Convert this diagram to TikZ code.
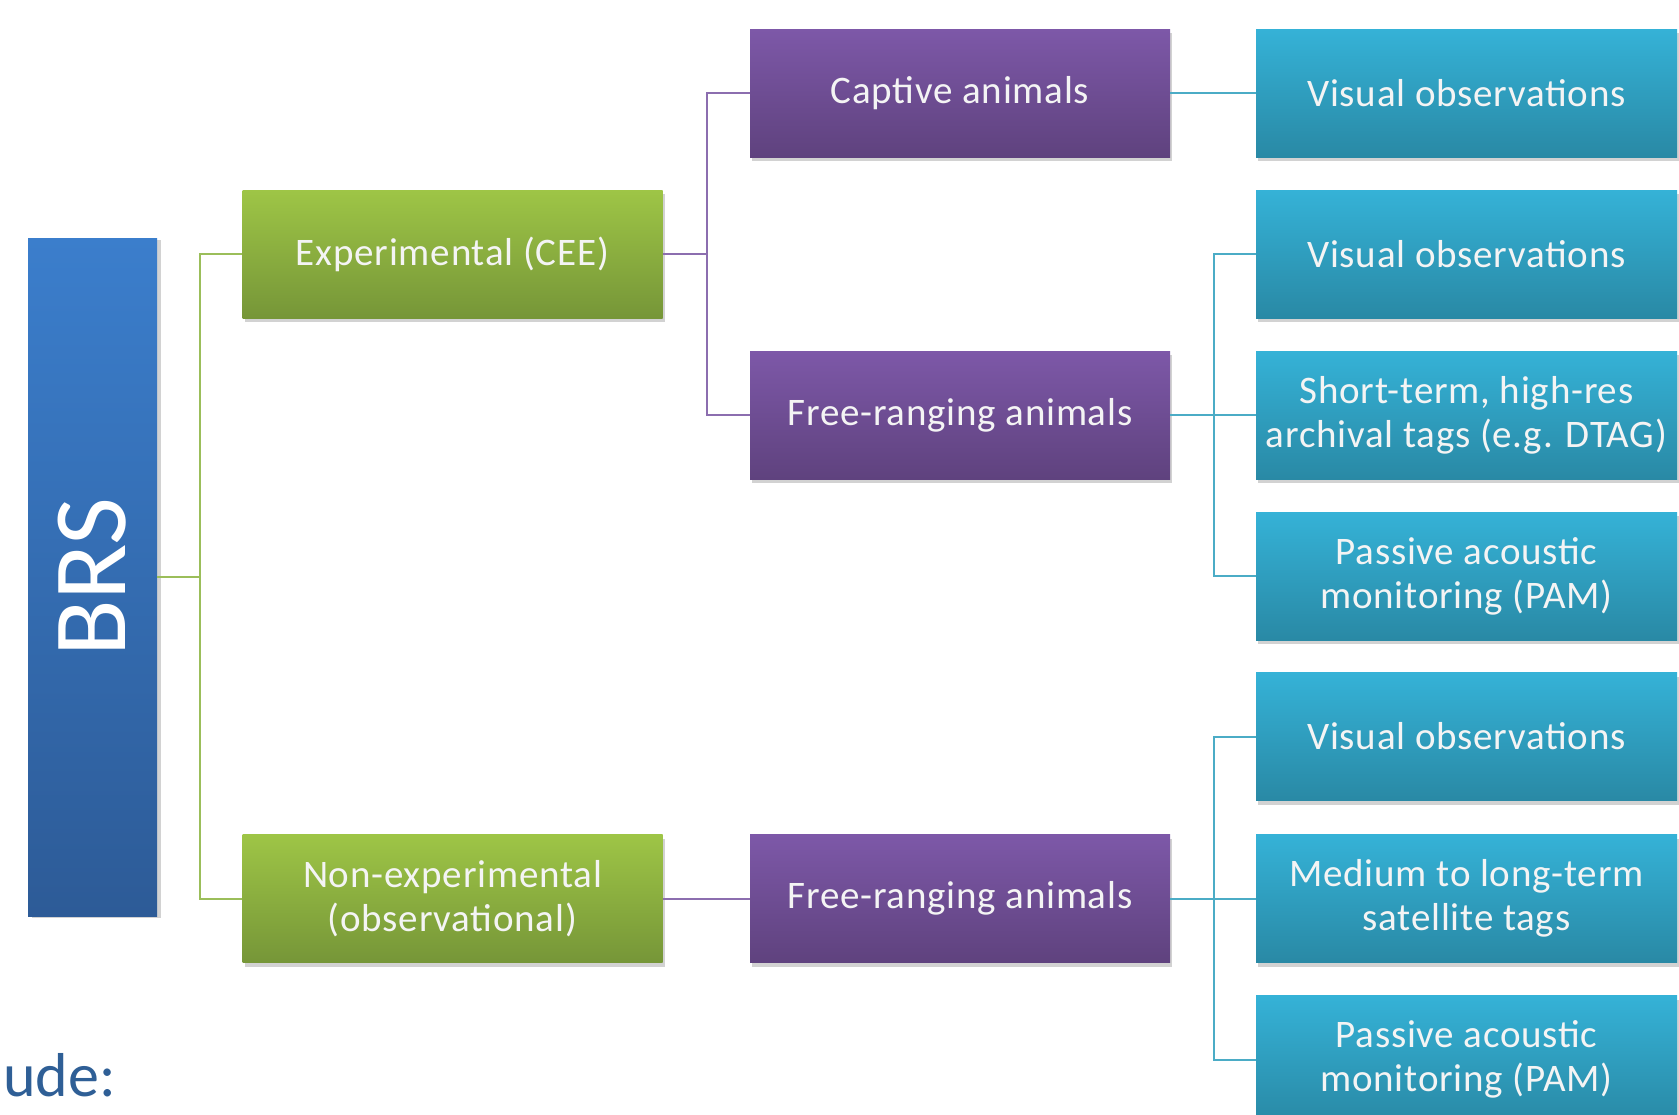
\documentclass[tikz,border=0pt]{standalone}
\usepackage{fontspec}
\setmainfont{Carlito}
\newfontfamily\boxfont[LetterSpace=2]{Carlito}
\usetikzlibrary{shadows,calc}
\definecolor{bluetop}{RGB}{59,126,204}
\definecolor{bluebot}{RGB}{45,91,151}
\definecolor{greentop}{RGB}{158,197,70}
\definecolor{greenbot}{RGB}{118,150,56}
\definecolor{purptop}{RGB}{125,88,168}
\definecolor{purpbot}{RGB}{95,66,126}
\definecolor{tealtop}{RGB}{53,178,215}
\definecolor{tealbot}{RGB}{41,137,165}
\definecolor{gline}{RGB}{155,190,90}
\definecolor{pline}{RGB}{140,110,175}
\definecolor{tline}{RGB}{75,172,198}
\definecolor{txt}{RGB}{244,244,244}
\definecolor{inctxt}{RGB}{47,95,150}
\tikzset{
  box/.style={minimum width=420pt, minimum height=128pt, inner sep=0pt,
    text=txt, align=center, font=\boxfont\fontsize{39}{44}\selectfont,
    drop shadow={opacity=0.35, shadow xshift=2pt, shadow yshift=-4pt}},
  greenbox/.style={box, top color=greentop, bottom color=greenbot},
  purpbox/.style={box, top color=purptop, bottom color=purpbot},
  tealbox/.style={box, top color=tealtop, bottom color=tealbot, minimum width=421pt},
  glink/.style={draw=gline, line width=2pt},
  plink/.style={draw=pline, line width=2pt},
  tlink/.style={draw=tline, line width=2pt},
}
\begin{document}
\begin{tikzpicture}[x=1pt,y=-1pt]
\useasboundingbox (0,0) rectangle (1679,1114);
\fill[white] (0,0) rectangle (1679,1114);

% root
\node[minimum width=678pt, minimum height=129pt, inner sep=0pt,
      top color=bluetop, bottom color=bluebot, text=white,
      drop shadow={opacity=0.35, shadow xshift=4pt, shadow yshift=-2pt},
      font=\fontsize{104}{110}\selectfont, rotate=90] (brs) at (92.5,577) {BRS};

% level 1
\node[greenbox] (exp) at (452.5,254) {Experimental (CEE)};
\node[greenbox] (non) at (452.5,898.5) {Non-experimental\\(observational)};

% level 2
\node[purpbox] (cap) at (960,93) {Captive animals};
\node[purpbox] (fr1) at (960,415) {Free-ranging animals};
\node[purpbox] (fr2) at (960,898.5) {Free-ranging animals};

% level 3
\node[tealbox] (v1) at (1466.5,93) {Visual observations};
\node[tealbox] (v2) at (1466.5,254) {Visual observations};
\node[tealbox] (st) at (1466.5,415) {Short-term, high-res\\archival tags (e.g. DTAG)};
\node[tealbox] (pam1) at (1466.5,576) {Passive acoustic\\monitoring (PAM)};
\node[tealbox] (v3) at (1466.5,736.5) {Visual observations};
\node[tealbox] (med) at (1466.5,898.5) {Medium to long-term\\satellite tags};
\node[tealbox] (pam2) at (1466.5,1059.5) {Passive acoustic\\monitoring (PAM)};

% partial caption text
\node[anchor=base west, inner sep=0pt, text=inctxt,
      font=\fontsize{62}{70}\selectfont] (inc) at (3,1096) {ude:};

% connectors
\coordinate (b0) at ($(brs.south)+(43,0)$);
\path[glink] (brs.south) -- (b0);
\path[glink] (exp.west) -| (b0) |- (non.west);

\coordinate (b1) at ($(exp.east)+(44,0)$);
\path[plink] (exp.east) -- (b1);
\path[plink] (cap.west) -| (b1) |- (fr1.west);
\path[plink] (non.east) -- (fr2.west);

\path[tlink] (cap.east) -- (v1.west);
\path[tlink] (fr1.east) -- (st.west);
\path[tlink] (v2.west) -- ++(-42,0) |- (pam1.west);
\path[tlink] (fr2.east) -- (med.west);
\path[tlink] (v3.west) -- ++(-42,0) |- (pam2.west);
\end{tikzpicture}
\end{document}
